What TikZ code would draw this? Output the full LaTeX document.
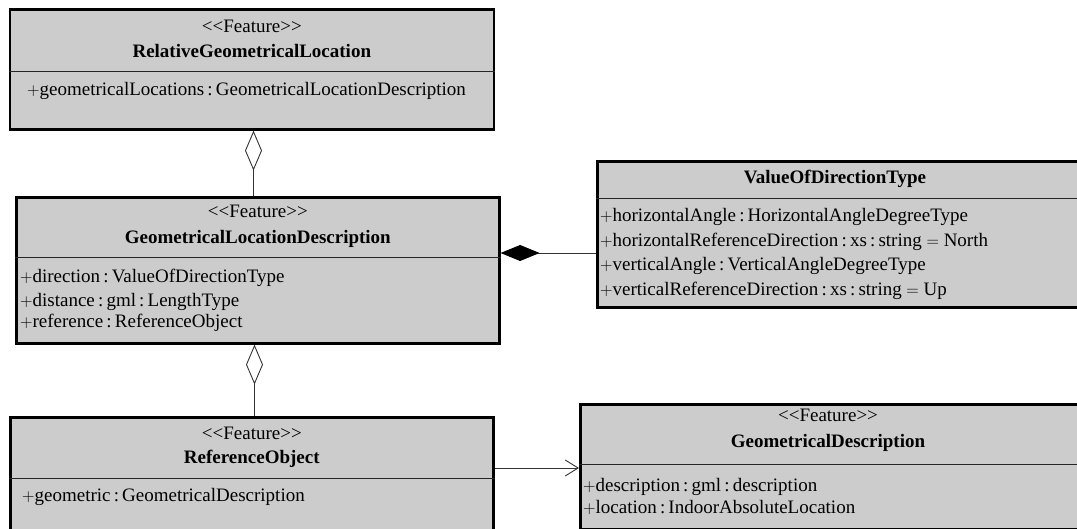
\documentclass[tikz,border=0pt]{standalone}
\usepackage{fontspec}
\setmainfont{Liberation Serif}
\usetikzlibrary{arrows.meta}
% one UML attribute: visibility, name, type
\newcommand\umlattr[2]{$+$#1\,:\,#2}
% stereotype text, kept from joining into guillemets
\newcommand\stereotype[1]{<{}<#1>{}>}
\begin{document}
\begin{tikzpicture}[x=1pt,y=-1pt,
  classbox/.style={draw=black, line width=2.6pt, fill=black!20, rectangle, inner sep=0pt, anchor=north west},
  sep/.style={draw=black!85, line width=0.9pt},
  stereo/.style={anchor=base, inner sep=0pt, font=\fontsize{19}{21}\selectfont},
  cname/.style={anchor=base, inner sep=0pt, font=\fontsize{19}{21}\selectfont\bfseries},
  attr/.style={anchor=base west, inner sep=0pt, font=\fontsize{19}{21}\selectfont},
  link/.style={draw=black!80, line width=0.9pt},
  aggr/.style={link, -{Diamond[open, length=40pt, width=17pt, line width=0.9pt]}},
  compo/.style={link, -{Diamond[length=39pt, width=16pt, fill=black, color=black]}},
  assoc/.style={link, -{Straight Barb[length=13pt, width=16pt, line width=0.9pt]}}
]
\useasboundingbox (0,0) rectangle (1077,529);

% RelativeGeometricalLocation
\node[classbox, minimum width=484pt, minimum height=120pt] (rgl) at (8.5,8) {};
\draw[sep] (rgl.west |- 0,71) -- (rgl.east |- 0,71);
\node[stereo] (rglS) at (rgl.north |- 0,33) {\stereotype{Feature}};
\node[cname]  (rglN) at (rgl.north |- 0,58) {RelativeGeometricalLocation};
\node[attr]   (rglA) at (27,96) {\umlattr{geometricalLocations}{GeometricalLocationDescription}};

% GeometricalLocationDescription
\node[classbox, minimum width=483pt, minimum height=146pt] (gld) at (15,196) {};
\draw[sep] (gld.west |- 0,257) -- (gld.east |- 0,257);
\node[stereo] (gldS) at (gld.north |- 0,218) {\stereotype{Feature}};
\node[cname]  (gldN) at (gld.north |- 0,244) {GeometricalLocationDescription};
\node[attr]   (gldA1) at (20,283) {\umlattr{direction}{ValueOfDirectionType}};
\node[attr]   (gldA2) at (20,307) {\umlattr{distance}{gml\,:\,LengthType}};
\node[attr]   (gldA3) at (20,328) {\umlattr{reference}{ReferenceObject}};

% ValueOfDirectionType
\node[classbox, minimum width=490pt, minimum height=146pt] (vdt) at (596,160) {};
\draw[sep] (vdt.west |- 0,198) -- (vdt.east |- 0,198);
\node[cname] (vdtN) at (835,184) {ValueOfDirectionType};
\node[attr]  (vdtA1) at (600,222) {\umlattr{horizontalAngle}{HorizontalAngleDegreeType}};
\node[attr]  (vdtA2) at (600,247) {\umlattr{horizontalReferenceDirection}{xs\,:\,string $=$ North}};
\node[attr]  (vdtA3) at (600,271) {\umlattr{verticalAngle}{VerticalAngleDegreeType}};
\node[attr]  (vdtA4) at (600,296) {\umlattr{verticalReferenceDirection}{xs\,:\,string $=$ Up}};

% ReferenceObject
\node[classbox, minimum width=483pt, minimum height=125pt] (ro) at (9,416) {};
\draw[sep] (ro.west |- 0,478) -- (ro.east |- 0,478);
\node[stereo] (roS) at (ro.north |- 0,439) {\stereotype{Feature}};
\node[cname]  (roN) at (ro.north |- 0,464) {ReferenceObject};
\node[attr]   (roA) at (22,501) {\umlattr{geometric}{GeometricalDescription}};

% GeometricalDescription
\node[classbox, minimum width=510pt, minimum height=125pt] (gd) at (579,403) {};
\draw[sep] (gd.west |- 0,464) -- (gd.east |- 0,464);
\node[stereo] (gdS) at (828,421) {\stereotype{Feature}};
\node[cname]  (gdN) at (828,447) {GeometricalDescription};
\node[attr]   (gdA1) at (583,491) {\umlattr{description}{gml\,:\,description}};
\node[attr]   (gdA2) at (583,513) {\umlattr{location}{IndoorAbsoluteLocation}};

% connectors
\coordinate (x1) at (253.5,0);
\coordinate (x2) at (254.5,0);
\coordinate (y1) at (0,253);
\coordinate (y2) at (0,468);
\draw[aggr]  (gld.north -| x1) -- (rgl.south -| x1);
\draw[aggr]  (ro.north -| x2) -- (gld.south -| x2);
\draw[compo] (vdt.west |- y1) -- (gld.east |- y1);
\draw[assoc] (ro.east |- y2) -- (gd.west |- y2);
\end{tikzpicture}
\end{document}
